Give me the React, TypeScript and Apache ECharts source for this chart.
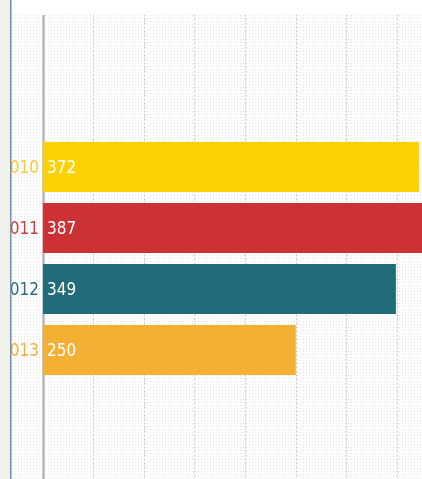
import React, { useEffect, useRef } from "react";
import * as echarts from "echarts";

const categories = ["", "", "010", "011", "012", "013", "", ""];
const values = [null, null, 372, 387, 349, 250, null, null];
const barColors = ["#fcd205", "#fcd205", "#fcd205", "#cc3235", "#226b78", "#f2b134", "#f2b134", "#f2b134"];
const labelColors = ["#f7c83a", "#f7c83a", "#f7c83a", "#cf3a3c", "#2e6b80", "#f2b134", "#f2b134", "#f2b134"];
const xTicks = { min: 0, max: 450, interval: 50 };

function makeDotPattern(): string {
  const c = document.createElement("canvas");
  c.width = 3;
  c.height = 3;
  const ctx = c.getContext("2d")!;
  ctx.fillStyle = "#ffffff";
  ctx.fillRect(0, 0, 3, 3);
  ctx.fillStyle = "#e4e6e6";
  ctx.fillRect(0, 0, 1, 1);
  return c.toDataURL();
}

export default function App() {
  const ref = useRef<HTMLDivElement>(null);
  useEffect(() => {
    document.body.style.margin = "0";
    const chart = echarts.init(ref.current!, null, { renderer: "svg" });
    const font = "'DejaVu Sans Condensed', 'Roboto', sans-serif";
    chart.setOption({
      animation: false,
      backgroundColor: { image: makeDotPattern(), repeat: "repeat" },
      grid: { left: 43, right: 22, top: 14.5, height: 488, containLabel: false },
      xAxis: {
        type: "value",
        min: xTicks.min,
        max: xTicks.max,
        interval: xTicks.interval,
        axisLine: { show: false },
        axisTick: { show: false },
        axisLabel: { show: false },
        splitLine: { show: true, lineStyle: { color: "#c4c4c4", width: 1, type: [2, 2] } },
      },
      yAxis: {
        type: "category",
        inverse: true,
        data: categories,
        axisLine: { show: true, onZero: false, lineStyle: { color: "#b8b8b8", width: 2.5 } },
        axisTick: { show: false },
        splitLine: { show: false },
        axisLabel: {
          margin: 4,
          fontFamily: font,
          fontSize: 17,
          color: (_v: any, i: number) => labelColors[i],
        },
      },
      series: [
        {
          type: "bar",
          barWidth: 50,
          data: values.map((v, i) => ({ value: v, itemStyle: { color: barColors[i] } })),
          label: {
            show: true,
            position: "insideLeft",
            distance: 4,
            color: "#ffffff",
            fontFamily: font,
            fontSize: 17,
          },
        },
      ],
      graphic: [
        { type: "rect", z: 100, shape: { x: 0, y: 0, width: 600, height: 15 }, style: { fill: "#ffffff" } },
        { type: "rect", z: 101, shape: { x: 0, y: 0, width: 10, height: 600 }, style: { fill: "#f1f1ec" } },
        { type: "rect", z: 101, shape: { x: 10, y: 0, width: 1.5, height: 600 }, style: { fill: "#6d8fae" } },
      ],
    });
    return () => chart.dispose();
  }, []);
  return (
    <div style={{ position: "fixed", left: 0, top: 0, width: 422, height: 479, overflow: "hidden" }}>
      <div ref={ref} style={{ width: 520, height: 540 }} />
    </div>
  );
}
